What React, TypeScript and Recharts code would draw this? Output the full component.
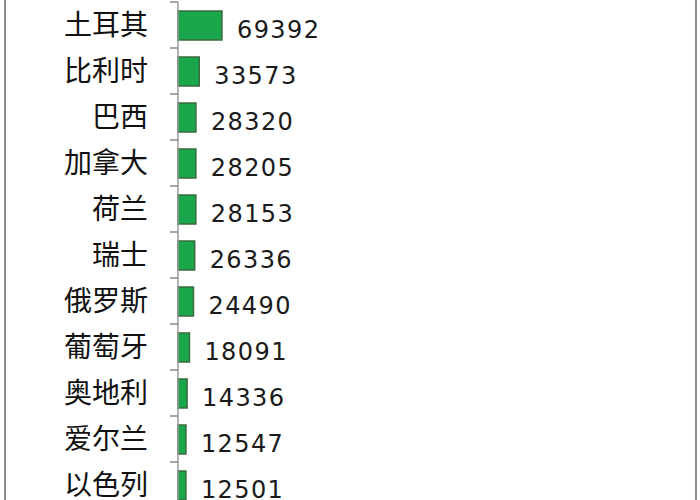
import { Bar, BarChart, LabelList, XAxis, YAxis } from 'recharts'

const countries = [
  '土耳其',
  '比利时',
  '巴西',
  '加拿大',
  '荷兰',
  '瑞士',
  '俄罗斯',
  '葡萄牙',
  '奥地利',
  '爱尔兰',
  '以色列',
]

const amounts = [
  69392, 33573, 28320, 28205, 28153, 26336, 24490, 18091, 14336, 12547, 12501,
]

const data = countries.map((name, i) => ({ name, value: amounts[i] }))

const TICK_SIZE = 8
const TICK_MARGIN = 22

function CountryTick(props: any) {
  const { x, y, payload } = props
  const half = payload?.offset ?? 23
  const axisX = x + TICK_SIZE + TICK_MARGIN
  return (
    <g>
      <line
        x1={axisX - TICK_SIZE}
        x2={axisX}
        y1={y - half}
        y2={y - half}
        stroke="#8a8a8a"
        strokeWidth={1.5}
      />
      <text
        x={x}
        y={y}
        dy="0.36em"
        textAnchor="end"
        fill="#111"
        fontSize={28}
        fontFamily='"Noto Sans CJK SC", sans-serif'
      >
        {payload.value}
      </text>
    </g>
  )
}

function ValueLabel(props: any) {
  const { x, y, width, height, value } = props
  return (
    <text
      x={x + width + 15}
      y={y + height / 2 + 4}
      dominantBaseline="central"
      fill="#1a1a1a"
      fontSize={24}
      letterSpacing={1.4}
      fontFamily='"DejaVu Sans", sans-serif'
    >
      {value}
    </text>
  )
}

export default function App() {
  return (
    <div
      style={{
        position: 'absolute',
        left: 0,
        top: 0,
        width: 700,
        height: 500,
        overflow: 'hidden',
        background: '#fff',
      }}
    >
      <div
        style={{
          position: 'absolute',
          left: 4,
          top: 0,
          width: 2,
          height: 500,
          background: '#8c8c8c',
        }}
      />
      <div
        style={{
          position: 'absolute',
          left: 695,
          top: 0,
          width: 2,
          height: 500,
          background: '#8c8c8c',
        }}
      />
      <BarChart
        width={700}
        height={520}
        data={data}
        layout="vertical"
        margin={{ top: 2, right: 15, bottom: 12, left: 0 }}
      >
        <XAxis type="number" domain={[0, 800000]} hide />
        <YAxis
          type="category"
          dataKey="name"
          width={178}
          axisLine={{ stroke: '#9a9a9a', strokeWidth: 1.5 }}
          tickLine={false}
          tickSize={TICK_SIZE}
          tickMargin={TICK_MARGIN}
          tick={<CountryTick />}
          interval={0}
        />
        <Bar
          dataKey="value"
          barSize={29}
          fill="#1aa64a"
          stroke="#3b6b3f"
          strokeWidth={1.5}
          isAnimationActive={false}
        >
          <LabelList dataKey="value" content={<ValueLabel />} />
        </Bar>
      </BarChart>
    </div>
  )
}
